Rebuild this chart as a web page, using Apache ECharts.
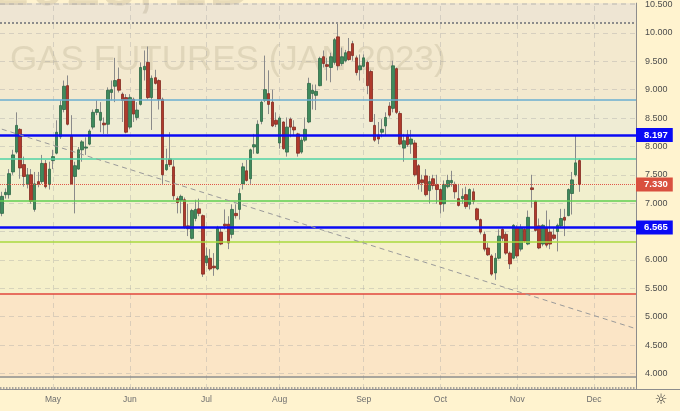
<!DOCTYPE html>
<html><head><meta charset="utf-8">
<script src="https://cdn.jsdelivr.net/npm/echarts@6/dist/echarts.min.js"></script>
<style>html,body{margin:0;padding:0;background:#fff3cf}#c{width:680px;height:411px}</style>
</head><body><div id="c"></div>
<script>
// Trading days (2022), Apr 11 .. Dec 16
const dates = [
"04-11","04-12","04-13","04-14","04-18","04-19","04-20","04-21","04-22","04-25","04-26","04-27","04-28","04-29",
"05-02","05-03","05-04","05-05","05-06","05-09","05-10","05-11","05-12","05-13","05-16","05-17","05-18","05-19","05-20","05-23","05-24","05-25","05-26","05-27","05-31",
"06-01","06-02","06-03","06-06","06-07","06-08","06-09","06-10","06-13","06-14","06-15","06-16","06-17","06-21","06-22","06-23","06-24","06-27","06-28","06-29","06-30",
"07-01","07-05","07-06","07-07","07-08","07-11","07-12","07-13","07-14","07-15","07-18","07-19","07-20","07-21","07-22","07-25","07-26","07-27","07-28","07-29",
"08-01","08-02","08-03","08-04","08-05","08-08","08-09","08-10","08-11","08-12","08-15","08-16","08-17","08-18","08-19","08-22","08-23","08-24","08-25","08-26","08-29","08-30","08-31",
"09-01","09-02","09-06","09-07","09-08","09-09","09-12","09-13","09-14","09-15","09-16","09-19","09-20","09-21","09-22","09-23","09-26","09-27","09-28","09-29","09-30",
"10-03","10-04","10-05","10-06","10-07","10-10","10-11","10-12","10-13","10-14","10-17","10-18","10-19","10-20","10-21","10-24","10-25","10-26","10-27","10-28","10-31",
"11-01","11-02","11-03","11-04","11-07","11-08","11-09","11-10","11-11","11-14","11-15","11-16","11-17","11-18","11-21","11-22","11-23","11-25","11-28","11-29","11-30",
"12-01","12-02","12-05","12-06","12-07","12-08","12-09","12-12","12-13","12-14","12-15","12-16"
];
const monthNames = {"04":"Apr","05":"May","06":"Jun","07":"Jul","08":"Aug","09":"Sep","10":"Oct","11":"Nov","12":"Dec"};

const open = [
6.82,7.15,7.15,7.55,7.90,8.30,7.68,7.34,7.50,6.89,7.38,
7.38,7.70,7.33,7.75,7.88,8.17,8.65,9.07,8.18,7.47,
7.60,7.94,7.97,8.04,8.34,8.60,8.46,8.41,8.39,8.95,
9.06,9.18,8.92,8.86,8.34,8.83,8.51,8.74,9.35,9.48,
8.86,9.21,9.16,8.83,7.59,7.78,7.64,7.08,7.05,7.06,
6.60,6.38,6.73,6.90,6.78,5.95,6.03,5.89,5.84,6.49,
6.63,6.63,6.45,6.82,6.89,7.34,7.57,7.43,7.99,7.88,
8.44,8.81,8.93,8.78,8.46,8.06,8.43,7.90,8.48,8.34,
8.22,7.90,8.11,8.43,8.93,8.90,9.07,9.58,9.44,9.39,
9.48,9.93,9.46,9.51,9.67,9.81,9.56,9.35,9.41,9.48,
9.32,8.37,8.20,8.25,8.36,8.71,8.67,9.37,8.58,7.97,
8.20,8.04,8.06,7.66,7.41,7.48,7.22,7.43,7.33,7.24,
6.99,7.29,7.36,7.33,7.08,7.08,7.15,6.98,7.20,6.90,
6.71,6.45,6.21,6.07,5.77,6.03,6.54,6.45,6.12,6.03,
6.57,6.19,6.54,6.28,7.27,7.03,6.60,6.28,6.56,6.49,
6.44,6.50,6.60,6.75,6.78,7.17,7.50,7.75];
const close = [
7.12,7.19,7.52,7.85,8.37,7.62,7.47,7.50,7.03,7.34,7.33,
7.70,7.29,7.60,7.82,8.25,8.72,9.06,8.39,7.34,7.66,
7.94,8.08,7.99,8.27,8.60,8.65,8.60,8.38,8.99,9.00,
9.16,8.99,8.81,8.25,8.86,8.57,8.64,9.39,9.41,8.86,
9.20,9.11,8.83,7.50,7.68,7.68,7.13,7.01,7.12,6.57,
6.55,6.87,6.89,6.82,5.75,6.07,5.84,5.86,6.56,6.28,
6.60,6.30,6.89,6.78,7.17,7.64,7.40,7.94,8.03,8.39,
8.78,9.00,8.74,8.36,8.39,8.50,7.96,8.34,8.34,8.29,
7.88,8.11,8.30,9.11,8.99,8.97,9.55,9.46,9.41,9.58,
9.88,9.42,9.58,9.65,9.53,9.60,9.30,9.42,9.56,9.07,
8.44,8.11,8.13,8.30,8.51,8.55,9.42,8.60,8.04,8.10,
8.03,8.13,7.50,7.34,7.36,7.15,7.38,7.31,7.24,6.98,
7.33,7.40,7.40,7.20,6.96,7.12,6.94,7.24,7.03,6.71,
6.49,6.19,6.09,5.75,6.03,6.42,6.38,6.12,5.93,6.61,
6.07,6.57,6.33,6.75,7.24,6.52,6.21,6.61,6.26,6.28,
6.38,6.61,6.73,6.70,7.24,7.41,7.71,7.33];
const low = [
6.77,7.08,7.08,7.50,7.87,7.43,7.29,7.26,6.99,6.85,7.28,
7.34,7.26,7.24,7.60,7.86,8.13,8.60,8.37,7.33,6.82,
7.59,7.73,7.85,8.02,8.30,8.55,8.25,8.22,8.22,8.81,
8.78,8.95,8.43,8.23,8.30,8.43,8.46,8.72,9.16,8.83,
8.29,9.09,8.65,7.34,7.57,7.64,7.06,6.82,6.82,6.55,
6.42,6.36,6.68,6.77,5.70,5.89,5.81,5.72,5.82,6.26,
6.54,6.19,6.38,6.73,6.71,7.24,7.38,7.34,7.87,7.87,
8.39,8.78,8.57,8.34,8.34,7.96,7.94,7.82,8.16,8.20,
7.82,7.87,8.08,8.41,8.65,8.64,9.06,9.39,9.16,9.13,
9.44,9.34,9.42,9.48,9.51,9.51,9.25,9.16,9.39,8.92,
8.43,8.08,8.04,8.16,8.20,8.51,8.60,8.57,8.02,7.73,
7.99,7.87,7.47,7.24,7.20,7.12,6.99,7.24,6.99,6.82,
6.85,7.26,7.29,7.08,6.94,6.99,6.90,6.89,6.98,6.68,
6.45,6.15,6.07,5.72,5.65,6.01,6.33,6.09,5.84,6.01,
6.03,6.15,6.30,6.26,6.92,6.50,6.19,6.24,6.22,6.19,
6.35,6.15,6.56,6.42,6.77,6.80,7.47,7.20];
const high = [
7.20,7.26,7.60,7.94,8.60,8.32,7.82,7.62,7.60,7.55,7.55,
7.85,7.76,7.73,7.94,8.46,8.81,9.16,9.25,8.55,7.73,
7.99,8.11,8.16,8.30,8.65,8.81,8.78,8.51,9.04,9.16,
9.56,9.39,8.95,8.92,8.92,8.86,8.78,9.48,9.69,9.76,
9.25,9.35,9.18,8.86,7.96,8.25,7.76,7.12,7.15,7.10,
6.99,6.90,7.06,7.08,6.80,6.22,6.19,6.12,6.60,6.56,
6.89,6.77,6.98,6.98,7.26,7.71,7.76,7.96,8.22,8.46,
8.81,9.60,9.34,9.00,8.60,8.53,8.44,8.51,8.51,8.46,
8.24,8.16,8.51,9.21,9.09,9.09,9.58,9.69,9.56,9.65,
9.91,10.17,9.74,9.70,9.91,9.86,9.60,9.62,9.62,9.51,
9.35,8.57,8.43,8.48,8.60,8.78,9.51,9.39,8.62,8.22,
8.29,8.29,8.11,7.69,7.50,7.60,7.48,7.50,7.50,7.26,
7.40,7.50,7.57,7.38,7.34,7.26,7.29,7.26,7.26,6.92,
6.73,6.50,6.30,6.10,6.12,6.54,6.56,6.49,6.15,6.63,
6.61,6.63,6.56,6.87,7.50,7.05,6.73,6.63,6.87,6.71,
6.56,6.64,6.90,6.90,7.26,7.55,8.20,7.78];

// axis range
const yMin = 3.726, yMax = 10.524;
// horizontal drawings
const levelPrices = [10.18, 8.83, 8.197, 7.78, 7.33, 7.05, 6.565, 6.32, 5.41, 3.95, 3.75];
const levelColors = ['#8c8c8c','#6aaed0','#0a0af5','#4fd3a6','#e0584a','#5fcf4f','#0a0af5','#a9da3e','#e0473b','#8c8c8c','#8c8c8c'];
const levelWidths = [2, 1.5, 2.5, 1.5, 1, 1.5, 2.5, 1.5, 1.5, 1.5, 1.5];
const levelTypes = ['dotted','solid','solid','solid','dotted','solid','solid','solid','solid','solid','dotted'];
const taggedPrices = [8.197, 7.33, 6.565];
const tagColors = {'8.197':'#0a0af5','7.33':'#d9503f','6.565':'#0a0af5'};
// zone fills between drawings
const bandEdges = [yMax, 10.18, 8.83, 8.197, 7.78, 7.05, 6.565, 6.32, 5.41, 3.95, yMin];
const bandColors = ['#eee5d3','#f3e9cf','#efecd4','#f2eecf','#f1efcd','#f1efcf','#f0efd1','#f5f0ca','#fbe5c6','#fcefcc'];
// trend line (start value at first category, end value at last category)
const trendValues = [8.304, 4.798];

const isMonthStart = i => i > 0 && dates[i].slice(0,2) !== dates[i-1].slice(0,2);
const monthStarts = dates.filter((d,i) => isMonthStart(i));

const wickData = low.map((l,i) => [l, l, l, high[i]]);
const bodyData = open.map((o,i) => [o, close[i], Math.min(o, close[i]), Math.max(o, close[i])]);

const chart = echarts.init(document.getElementById('c'), null, {renderer:'canvas'});
const font = 'Liberation Sans, Arial, sans-serif';

chart.setOption({
  animation: false,
  backgroundColor: '#fff3cf',
  grid: {left: -2.5, right: 44, top: 0, bottom: 22, containLabel: false},
  xAxis: {
    type: 'category', data: dates, boundaryGap: true,
    axisLine: {show: true, lineStyle: {color: '#8c8c8c', width: 1}},
    axisTick: {show: false},
    splitLine: {show: false},
    axisLabel: {
      interval: (i) => isMonthStart(i),
      formatter: (v) => monthNames[v.slice(0,2)],
      color: '#6e6e6e', fontSize: 8.5, fontFamily: font, margin: 6
    }
  },
  yAxis: {
    type: 'value', position: 'right', min: yMin, max: yMax, scale: true,
    splitNumber: 14, minInterval: 0.5, maxInterval: 0.5, z: 2,
    axisLine: {show: true, lineStyle: {color: '#8c8c8c', width: 1}},
    axisTick: {show: false},
    splitLine: {show: true, lineStyle: {color: 'rgba(160,160,160,0.35)', type: [5,4], width: 1}},
    axisLabel: {
      showMinLabel: false, showMaxLabel: false, align: 'left', margin: 9,
      formatter: v => v.toFixed(3), color: '#4d4d4d', fontSize: 9, fontFamily: font
    }
  },
  graphic: {elements: [
    {type:'text', z: 2, left: null, x: 254, y: 19, style: {text: 'NGF2023, 1D', font: '64px ' + font, fill: 'rgba(140,125,95,0.2)', textAlign: 'right', textVerticalAlign: 'bottom'}},
    {type:'text', z: 2, x: 10, y: 60, style: {text: 'GAS FUTURES (JAN 2023)', font: '35px ' + font, fill: 'rgba(140,125,95,0.18)', textAlign: 'left', textVerticalAlign: 'middle'}},
    {type:'line', z: 3, shape: {x1: 636, y1: 389.5, x2: 680, y2: 389.5}, style: {stroke: '#8c8c8c', lineWidth: 1}},
    {type:'text', z: 3, x: 661, y: 400, style: {text: '\u263C', font: '14px DejaVu Sans', fill: '#333', textAlign: 'center', textVerticalAlign: 'middle'}}
  ]},
  series: [
    {
      type: 'line', name: 'zones', data: dates.map(() => null), z: 1, silent: true, symbol: 'none',
      markArea: {
        silent: true, z: 1,
        data: bandColors.map((c, i) => [{yAxis: bandEdges[i], itemStyle: {color: c}}, {yAxis: bandEdges[i+1]}])
      },
      markLine: {
        silent: true, z: 2, symbol: ['none','none'], label: {show: false},
        lineStyle: {color: 'rgba(160,160,160,0.35)', type: [5,4], width: 1},
        data: monthStarts.map(d => ({xAxis: d}))
      }
    },
    {
      type: 'candlestick', name: 'wicks', data: wickData, z: 3, barWidth: 1, silent: true,
      itemStyle: {color: '#8a8a8a', color0: '#8a8a8a', borderColor: '#8a8a8a', borderColor0: '#8a8a8a', borderWidth: 1}
    },
    {
      type: 'candlestick', name: 'bodies', data: bodyData, z: 4, barWidth: 3, silent: true,
      itemStyle: {color: '#3f8a5c', color0: '#b03a2c', borderColor: '#2f6846', borderColor0: '#83281f', borderWidth: 0.8}
    },
    {
      type: 'line', name: 'drawings', data: dates.map(() => null), z: 5, silent: true, symbol: 'none',
      markLine: {
        silent: true, z: 6, symbol: ['none','none'],
        data: levelPrices.map((p, i) => {
          const tagged = taggedPrices.includes(p);
          return {
            yAxis: p,
            lineStyle: {color: levelColors[i], width: levelWidths[i], type: levelTypes[i]},
            label: tagged ? {
              show: true, position: 'end', distance: 0, formatter: p.toFixed(3),
              backgroundColor: tagColors[String(p)], color: '#ffffff', fontWeight: 'bold',
              fontSize: 9.5, fontFamily: font, padding: [2, 5, 2, 8]
            } : {show: false}
          };
        }).concat([[
          {coord: [dates[0], trendValues[0]], lineStyle: {color: '#9a9a9a', width: 1, type: [5,4]}, label: {show: false}},
          {coord: [dates[dates.length - 1], trendValues[1]]}
        ]])
      }
    }
  ]
});
</script>
</body></html>
